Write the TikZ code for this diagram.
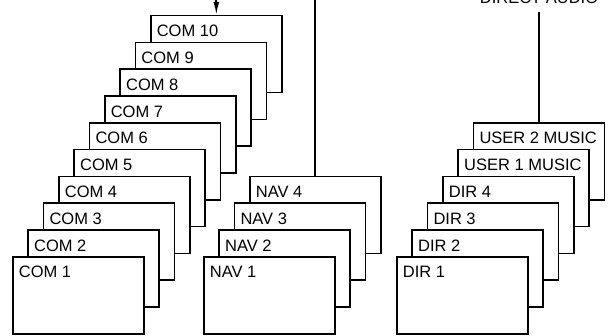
\documentclass[tikz,border=0pt]{standalone}
\usepackage{fontspec}
\setmainfont{Liberation Sans}
\usetikzlibrary{arrows.meta,calc}
\newcommand\cardtxt[1]{\makebox[119pt][l]{#1}}
\begin{document}
\begin{tikzpicture}[x=1pt,y=-1pt,
  card/.style={draw, fill=white, line width=1.7pt, anchor=north west,
    inner xsep=6pt, inner ysep=0pt,
    text height=21pt, text depth=56pt,
    font=\fontsize{16.5}{18}\selectfont},
  wire/.style={line width=1.7pt},
  lbl/.style={font=\fontsize{16.5}{18}\selectfont}]
\useasboundingbox (0,0) rectangle (613,336);
\def\dx{15.33}\def\dy{26.8}
% COM stack (back to front)
\foreach \k in {10,9,...,1}{
  \node[card] (c\k) at ({12+\dx*(\k-1)},{256-\dy*(\k-1)}) {\cardtxt{COM \k}};
}
% NAV stack
\foreach \k in {4,3,2,1}{
  \node[card] (n\k) at ({203+\dx*(\k-1)},{256-\dy*(\k-1)}) {\cardtxt{NAV \k}};
}
% DIR stack
\node[card] (u2) at ({396+\dx*5},{256-\dy*5}) {\cardtxt{USER 2 MUSIC}};
\node[card] (u1) at ({396+\dx*4},{256-\dy*4}) {\cardtxt{USER 1 MUSIC}};
\foreach \k in {4,3,2,1}{
  \node[card] (d\k) at ({396+\dx*(\k-1)},{256-\dy*(\k-1)}) {\cardtxt{DIR \k}};
}
% connectors
\coordinate (comsrc) at (c10.north |- 0,0);
\draw[wire, -{Latex[length=13pt,width=6pt]}] (comsrc) -- (c10.north);
\coordinate (navsrc) at (n4.north |- 0,0);
\draw[wire] (navsrc) -- (n4.north);
\node[lbl, anchor=south, inner xsep=0pt, inner ysep=8pt] (da) at (u2.north |- 0,12) {DIRECT AUDIO};
\draw[wire] (da.south) -- (u2.north);
\end{tikzpicture}
\end{document}
